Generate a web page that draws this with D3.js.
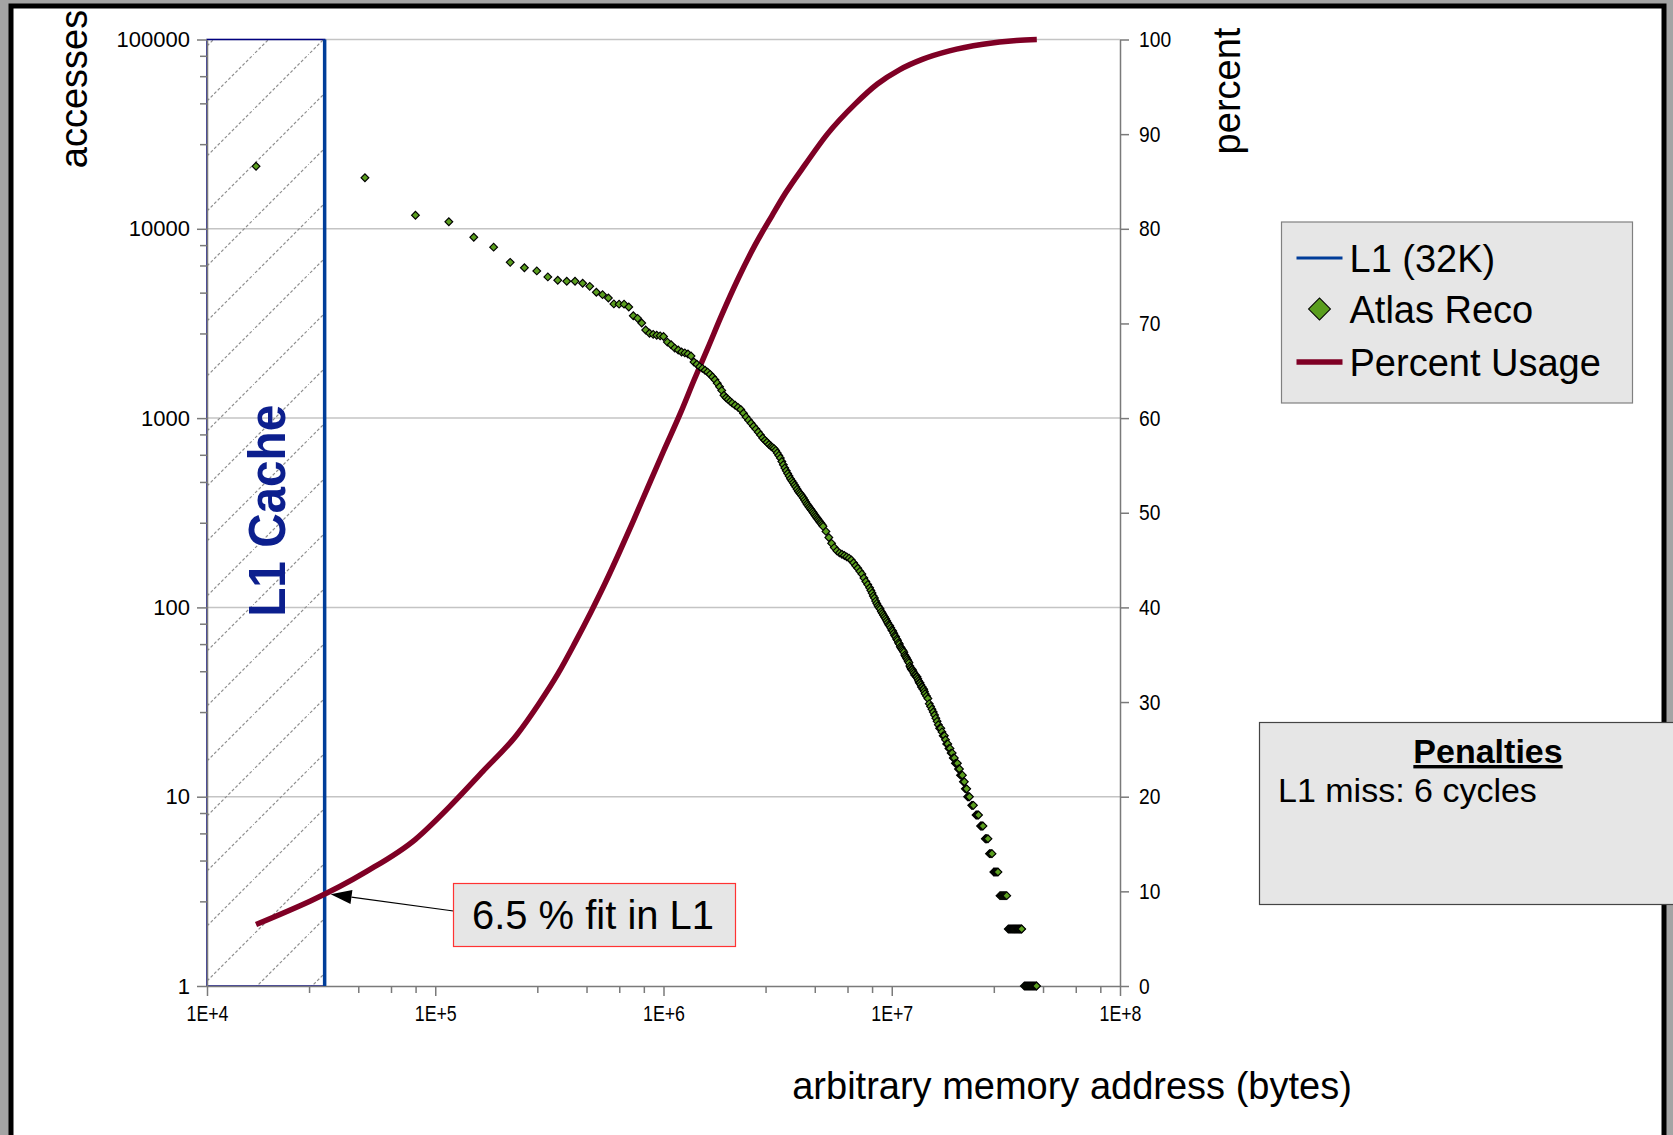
<!DOCTYPE html>
<html>
<head>
<meta charset="utf-8">
<script src="https://cdn.jsdelivr.net/npm/d3@7"></script>
<style>
  body { margin: 0; background: #a4a4a4; overflow: hidden; }
  svg { display: block; }
</style>
</head>
<body>
<div id="chart"></div>
<script>
// Atlas Reco memory access profile vs L1 cache size

// ---- data ----
const xTicks = [1e4, 1e5, 1e6, 1e7, 1e8];
const xTickLabels = ["1E+4", "1E+5", "1E+6", "1E+7", "1E+8"];
const yTicks = [1, 10, 100, 1000, 10000, 100000];
const yTickLabels = ["1", "10", "100", "1000", "10000", "100000"];
const pctTicks = [0, 10, 20, 30, 40, 50, 60, 70, 80, 90, 100];
const minorSteps = [2.8, 4.6, 6.4, 8.2];   // excel-style linear minor ticks per decade

const l1Size = 32768;
const l1Line = [[32768, 1], [32768, 100000]];

// [address (bytes), accesses]
const atlasReco = [
  [1.64e4, 21400], [4.92e4, 18600], [8.19e4, 11800], [1.147e5, 10900], [1.475e5, 9020],
  [1.802e5, 8000], [2.13e5, 6650], [2.458e5, 6230], [2.785e5, 5990], [3.113e5, 5570],
  [3.441e5, 5350], [3.768e5, 5285], [4.096e5, 5285], [4.424e5, 5160], [4.751e5, 4965],
  [5.079e5, 4620], [5.407e5, 4490], [5.734e5, 4310], [6.062e5, 4010], [6.39e5, 4000],
  [6.717e5, 4000], [7.045e5, 3860], [7.373e5, 3475], [7.7e5, 3365], [8.028e5, 3180],
  [8.356e5, 2920], [8.684e5, 2805], [9.011e5, 2770], [9.339e5, 2740], [9.667e5, 2720],
  [1.00e6, 2700], [1.04e6, 2520], [1.08e6, 2440], [1.12e6, 2344], [1.16e6, 2290],
  [1.20e6, 2235], [1.24e6, 2210], [1.28e6, 2180], [1.32e6, 2130], [1.36e6, 1980],
  [1.40e6, 1925], [1.44e6, 1870], [1.48e6, 1830], [1.52e6, 1790], [1.56e6, 1750],
  [1.60e6, 1703], [1.64e6, 1650], [1.68e6, 1595], [1.72e6, 1530], [1.76e6, 1465],
  [1.80e6, 1400], [1.84e6, 1320], [1.88e6, 1280], [1.92e6, 1255], [1.96e6, 1225],
  [2.00e6, 1200], [2.06e6, 1170], [2.12e6, 1140], [2.18e6, 1110], [2.24e6, 1060],
  [2.30e6, 1015], [2.36e6, 975], [2.42e6, 940], [2.48e6, 905], [2.54e6, 875],
  [2.60e6, 845], [2.66e6, 815], [2.72e6, 785], [2.78e6, 763], [2.84e6, 745],
  [2.90e6, 725], [2.96e6, 710], [3.00e6, 700], [3.05e6, 690], [3.10e6, 675],
  [3.15e6, 655], [3.20e6, 635], [3.25e6, 615], [3.30e6, 590], [3.35e6, 567],
  [3.40e6, 545], [3.45e6, 527], [3.50e6, 510], [3.55e6, 494], [3.60e6, 478],
  [3.65e6, 466], [3.70e6, 455], [3.75e6, 443], [3.80e6, 432], [3.85e6, 421],
  [3.90e6, 410], [3.95e6, 402], [4.00e6, 395], [4.05e6, 386], [4.10e6, 378],
  [4.15e6, 369], [4.20e6, 360], [4.25e6, 352], [4.30e6, 345], [4.35e6, 338],
  [4.40e6, 332], [4.45e6, 326], [4.50e6, 320], [4.55e6, 314], [4.60e6, 308],
  [4.65e6, 302], [4.70e6, 297], [4.75e6, 292], [4.80e6, 287], [4.85e6, 282],
  [4.90e6, 278], [4.95e6, 273], [5.00e6, 268], [5.15e6, 252], [5.30e6, 234],
  [5.45e6, 218], [5.60e6, 207], [5.75e6, 199], [5.90e6, 194], [6.05e6, 191],
  [6.20e6, 188], [6.35e6, 185], [6.50e6, 182], [6.65e6, 178], [6.80e6, 172],
  [6.95e6, 166], [7.10e6, 161], [7.25e6, 155], [7.40e6, 150], [7.55e6, 143],
  [7.70e6, 137], [7.85e6, 132], [8.00e6, 127], [8.1e6, 123], [8.2e6, 119],
  [8.3e6, 115], [8.4e6, 112], [8.5e6, 108], [8.6e6, 105], [8.7e6, 102],
  [8.8e6, 100], [8.9e6, 98], [9.0e6, 95], [9.1e6, 93], [9.2e6, 91],
  [9.3e6, 89], [9.4e6, 87], [9.5e6, 85], [9.6e6, 83], [9.7e6, 81],
  [9.8e6, 80], [9.9e6, 78], [1.00e7, 76], [1.01e7, 75], [1.02e7, 73],
  [1.03e7, 71], [1.04e7, 70], [1.05e7, 68], [1.06e7, 67], [1.07e7, 65],
  [1.08e7, 64], [1.09e7, 62], [1.10e7, 61], [1.11e7, 60], [1.12e7, 59],
  [1.13e7, 58], [1.14e7, 56], [1.15e7, 55], [1.16e7, 54], [1.17e7, 53],
  [1.18e7, 52], [1.19e7, 51], [1.20e7, 49], [1.21e7, 48], [1.22e7, 47],
  [1.23e7, 47], [1.24e7, 46], [1.25e7, 45], [1.26e7, 44], [1.27e7, 44],
  [1.28e7, 43], [1.29e7, 43], [1.30e7, 42], [1.31e7, 41], [1.32e7, 40],
  [1.33e7, 40], [1.34e7, 39], [1.35e7, 38], [1.36e7, 38], [1.37e7, 37],
  [1.38e7, 37], [1.39e7, 36], [1.40e7, 35], [1.42e7, 34], [1.44e7, 33],
  [1.46e7, 31], [1.48e7, 30], [1.50e7, 29], [1.52e7, 28], [1.54e7, 27],
  [1.56e7, 26], [1.58e7, 25], [1.60e7, 24], [1.62e7, 23], [1.64e7, 23],
  [1.66e7, 22], [1.68e7, 21], [1.70e7, 21], [1.72e7, 20], [1.74e7, 19],
  [1.76e7, 19], [1.78e7, 18], [1.80e7, 18], [1.82e7, 17], [1.84e7, 17],
  [1.86e7, 16], [1.88e7, 16], [1.90e7, 15], [1.92e7, 15], [1.94e7, 15],
  [1.96e7, 14], [1.98e7, 14], [2.00e7, 13], [2.02e7, 13], [2.04e7, 13],
  [2.06e7, 12], [2.08e7, 12], [2.10e7, 11], [2.12e7, 11], [2.13e7, 11],
  [2.15e7, 10], [2.17e7, 10], [2.19e7, 10],
  [2.24e7, 9], [2.26e7, 9], [2.28e7, 9],
  [2.34e7, 8], [2.36e7, 8], [2.38e7, 8], [2.40e7, 8],
  [2.45e7, 7], [2.47e7, 7], [2.49e7, 7], [2.51e7, 7],
  [2.57e7, 6], [2.59e7, 6], [2.61e7, 6], [2.64e7, 6],
  [2.68e7, 5], [2.70e7, 5], [2.73e7, 5], [2.75e7, 5],
  [2.80e7, 4], [2.83e7, 4], [2.86e7, 4], [2.89e7, 4], [2.92e7, 4],
  [2.98e7, 3], [3.01e7, 3], [3.04e7, 3], [3.07e7, 3], [3.10e7, 3], [3.13e7, 3], [3.16e7, 3], [3.19e7, 3],
  [3.24e7, 2], [3.27e7, 2], [3.30e7, 2], [3.33e7, 2], [3.36e7, 2], [3.39e7, 2], [3.42e7, 2], [3.45e7, 2],
  [3.48e7, 2], [3.51e7, 2], [3.54e7, 2], [3.57e7, 2], [3.60e7, 2], [3.63e7, 2], [3.66e7, 2], [3.69e7, 2], [3.71e7, 2],
  [3.81e7, 1], [3.85e7, 1], [3.89e7, 1], [3.93e7, 1], [3.97e7, 1], [4.01e7, 1], [4.05e7, 1],
  [4.09e7, 1], [4.13e7, 1], [4.17e7, 1], [4.21e7, 1], [4.25e7, 1], [4.29e7, 1], [4.31e7, 1]
];

// cumulative usage (%), secondary axis
const percentX = [1.64e4, 4.92e4, 8.19e4, 1.15e5, 1.62e5, 2.27e5, 2.84e5, 3.45e5, 4.08e5, 4.83e5,
  5.56e5, 6.40e5, 7.36e5, 8.47e5, 1.0e6, 1.19e6, 1.36e6, 1.57e6, 1.80e6, 2.13e6, 2.52e6,
  2.99e6, 3.43e6, 4.18e6, 5.22e6, 6.92e6, 8.65e6, 1.08e7, 1.36e7, 1.79e7, 2.51e7, 3.52e7, 4.32e7];
const percentY = [6.5, 12.0, 15.5, 18.9, 22.7, 26.5, 29.8, 33.0, 36.2, 39.6,
  42.6, 45.8, 49.1, 52.5, 56.5, 60.6, 64.0, 67.5, 70.9, 74.8, 78.3,
  81.4, 83.8, 86.8, 90.0, 93.2, 95.3, 96.8, 97.9, 98.8, 99.5, 99.9, 100];

const legendLabels = ["L1 (32K)", "Atlas Reco", "Percent Usage"];

// ---- layout ----
const W = 1673, H = 1135;
const plot = {left: 207, right: 1120, top: 39.5, bottom: 986};
const font = '"Liberation Sans", Arial, sans-serif';
const green = "#5a9e1e", maroon = "#7f0025", blue = "#003d99", navy = "#0c1f8e";

const svg = d3.select("#chart").append("svg")
    .attr("width", W)
    .attr("height", H)
    .style("font-family", font);

// white page with thick black frame
svg.append("rect")
    .attr("x", 11).attr("y", 6)
    .attr("width", 1653).attr("height", 1200)
    .attr("fill", "#fff")
    .attr("stroke", "#000")
    .attr("stroke-width", 5);

// scales
const x = d3.scaleLog().domain([1e4, 1e8]).range([plot.left, plot.right]);
const y = d3.scaleLog().domain([1, 1e5]).range([plot.bottom, plot.top]);
const y2 = d3.scaleLinear().domain([0, 100]).range([plot.bottom, plot.top]);

// hatch pattern for the L1 region
const defs = svg.append("defs");
defs.append("pattern")
    .attr("id", "hatch")
    .attr("patternUnits", "userSpaceOnUse")
    .attr("x", 33).attr("y", 0)
    .attr("width", 55).attr("height", 55)
  .append("path")
    .attr("d", "M-5,60L60,-5")
    .attr("stroke", "#8f8f8f")
    .attr("stroke-width", 1.2)
    .attr("stroke-dasharray", "3,2")
    .attr("fill", "none");

// gridlines
svg.append("g").selectAll("line")
    .data(yTicks.filter(d => d > 1))
    .join("line")
    .attr("x1", plot.left).attr("x2", plot.right)
    .attr("y1", d => y(d)).attr("y2", d => y(d))
    .attr("stroke", "#c4c4c4")
    .attr("stroke-width", 1.5);

// L1 cache region
svg.append("rect")
    .attr("x", x(1e4))
    .attr("y", y(1e5))
    .attr("width", x(l1Size) - x(1e4))
    .attr("height", y(1) - y(1e5))
    .attr("fill", "url(#hatch)")
    .attr("stroke", "#000080")
    .attr("stroke-width", 1.5);

svg.append("text")
    .attr("transform", `translate(${x(l1Size) - 40},${(y(1e5) + y(1)) / 2 - 2}) rotate(-90)`)
    .attr("text-anchor", "middle")
    .attr("font-size", 52)
    .attr("font-weight", "bold")
    .attr("textLength", 212)
    .attr("lengthAdjust", "spacingAndGlyphs")
    .attr("fill", navy)
    .text("L1 Cache");

// axes
function styleAxis(g) {
    g.select(".domain").attr("stroke", "#7a7a7a").attr("stroke-width", 1.5);
    g.selectAll(".tick line").attr("stroke", "#7a7a7a").attr("stroke-width", 1.5);
    g.selectAll(".tick text").attr("font-size", 22).attr("font-family", font).attr("fill", "#000");
}
const decadeMinor = d => d.slice(0, -1).flatMap(v => minorSteps.map(m => v * m));

const gLeft = svg.append("g")
    .attr("transform", `translate(${plot.left},0)`)
    .call(d3.axisLeft(y).tickValues(yTicks).tickFormat((d, i) => yTickLabels[i])
        .tickSize(10).tickSizeOuter(0).tickPadding(7));
styleAxis(gLeft);
const gLeftMinor = svg.append("g")
    .attr("transform", `translate(${plot.left},0)`)
    .call(d3.axisLeft(y).tickValues(decadeMinor(yTicks)).tickFormat("").tickSize(7));
styleAxis(gLeftMinor);
gLeftMinor.select(".domain").remove();

const gBottom = svg.append("g")
    .attr("transform", `translate(0,${plot.bottom})`)
    .call(d3.axisBottom(x).tickValues(xTicks).tickFormat((d, i) => xTickLabels[i])
        .tickSize(10).tickSizeOuter(0).tickPadding(9));
styleAxis(gBottom);
gBottom.selectAll(".tick text")
    .attr("textLength", 42)
    .attr("lengthAdjust", "spacingAndGlyphs");
const gBottomMinor = svg.append("g")
    .attr("transform", `translate(0,${plot.bottom})`)
    .call(d3.axisBottom(x).tickValues(decadeMinor(xTicks)).tickFormat("").tickSize(7));
styleAxis(gBottomMinor);
gBottomMinor.select(".domain").remove();

const gRight = svg.append("g")
    .attr("transform", `translate(${plot.right},0)`)
    .call(d3.axisRight(y2).tickValues(pctTicks).tickSize(9).tickSizeOuter(0).tickPadding(10));
styleAxis(gRight);
gRight.selectAll(".tick text")
    .attr("textLength", d => String(d).length * 10.7)
    .attr("lengthAdjust", "spacingAndGlyphs");

// L1 (32K) series
svg.append("path")
    .datum(l1Line)
    .attr("d", d3.line().x(d => x(d[0])).y(d => y(d[1])))
    .attr("stroke", blue)
    .attr("stroke-width", 3.5)
    .attr("fill", "none");

// Percent Usage series
const percentData = percentX.map((v, i) => [v, percentY[i]]);
svg.append("path")
    .datum(percentData)
    .attr("d", d3.line().x(d => x(d[0])).y(d => y2(d[1])).curve(d3.curveMonotoneX))
    .attr("stroke", maroon)
    .attr("stroke-width", 5.5)
    .attr("fill", "none");

// Atlas Reco scatter (diamonds)
svg.append("g").selectAll("path")
    .data(atlasReco)
    .join("path")
    .attr("transform", d => `translate(${x(d[0])},${y(d[1])}) rotate(45)`)
    .attr("d", d3.symbol(d3.symbolSquare, 30))
    .attr("fill", green)
    .attr("stroke", "#000")
    .attr("stroke-width", 1.15);

// legend
const legend = svg.append("g").attr("transform", "translate(1281.5,222)");
legend.append("rect")
    .attr("width", 351).attr("height", 181)
    .attr("fill", "#e6e6e6")
    .attr("stroke", "#808080")
    .attr("stroke-width", 1.2);
const rowY = [36, 87, 140];
legend.append("line")
    .attr("x1", 15).attr("x2", 61).attr("y1", rowY[0]).attr("y2", rowY[0])
    .attr("stroke", blue).attr("stroke-width", 3);
legend.append("path")
    .attr("transform", `translate(38,${rowY[1]}) rotate(45)`)
    .attr("d", d3.symbol(d3.symbolSquare, 240))
    .attr("fill", green).attr("stroke", "#000").attr("stroke-width", 1);
legend.append("line")
    .attr("x1", 15).attr("x2", 61).attr("y1", rowY[2]).attr("y2", rowY[2])
    .attr("stroke", maroon).attr("stroke-width", 5.5);
legend.selectAll("text.lbl")
    .data(legendLabels)
    .join("text")
    .attr("class", "lbl")
    .attr("x", 68)
    .attr("y", (d, i) => rowY[i])
    .attr("dy", "0.36em")
    .attr("font-size", 38)
    .text(d => d);

// annotation: 6.5 % fit in L1
const tip = [x(l1Size) + 6, y2(9.7)];
const tail = [453.5, 911];
const ang = Math.atan2(tip[1] - tail[1], tip[0] - tail[0]);
const headLen = 21, headW = 7;
const base = [tip[0] - headLen * Math.cos(ang), tip[1] - headLen * Math.sin(ang)];
svg.append("line")
    .attr("x1", tail[0]).attr("y1", tail[1])
    .attr("x2", base[0]).attr("y2", base[1])
    .attr("stroke", "#000").attr("stroke-width", 1.2);
svg.append("path")
    .attr("d", `M${tip[0]},${tip[1]}` +
        `L${base[0] + headW * Math.sin(ang)},${base[1] - headW * Math.cos(ang)}` +
        `L${base[0] - headW * Math.sin(ang)},${base[1] + headW * Math.cos(ang)}Z`)
    .attr("fill", "#000");
svg.append("rect")
    .attr("x", 453.5).attr("y", 883.5)
    .attr("width", 282).attr("height", 63)
    .attr("fill", "#e6e6e6")
    .attr("stroke", "#ff3333")
    .attr("stroke-width", 1.2);
svg.append("text")
    .attr("x", 472).attr("y", 929)
    .attr("font-size", 40)
    .attr("textLength", 242)
    .attr("lengthAdjust", "spacingAndGlyphs")
    .text("6.5 % fit in L1");

// penalties box
svg.append("rect")
    .attr("x", 1259.5).attr("y", 722.5)
    .attr("width", 450).attr("height", 182)
    .attr("fill", "#e6e6e6")
    .attr("stroke", "#444")
    .attr("stroke-width", 1.2);
svg.append("text")
    .attr("x", 1488).attr("y", 763)
    .attr("text-anchor", "middle")
    .attr("font-size", 34)
    .attr("font-weight", "bold")
    .attr("text-decoration", "underline")
    .text("Penalties");
svg.append("text")
    .attr("x", 1278).attr("y", 802)
    .attr("font-size", 34)
    .text("L1 miss: 6 cycles");

// axis titles
svg.append("text")
    .attr("transform", "translate(87,89) rotate(-90)")
    .attr("text-anchor", "middle")
    .attr("font-size", 38)
    .text("accesses");
svg.append("text")
    .attr("transform", "translate(1240,91) rotate(-90)")
    .attr("text-anchor", "middle")
    .attr("font-size", 38)
    .text("percent");
svg.append("text")
    .attr("x", 1072).attr("y", 1099)
    .attr("text-anchor", "middle")
    .attr("font-size", 38)
    .text("arbitrary memory address (bytes)");
</script>
</body>
</html>
